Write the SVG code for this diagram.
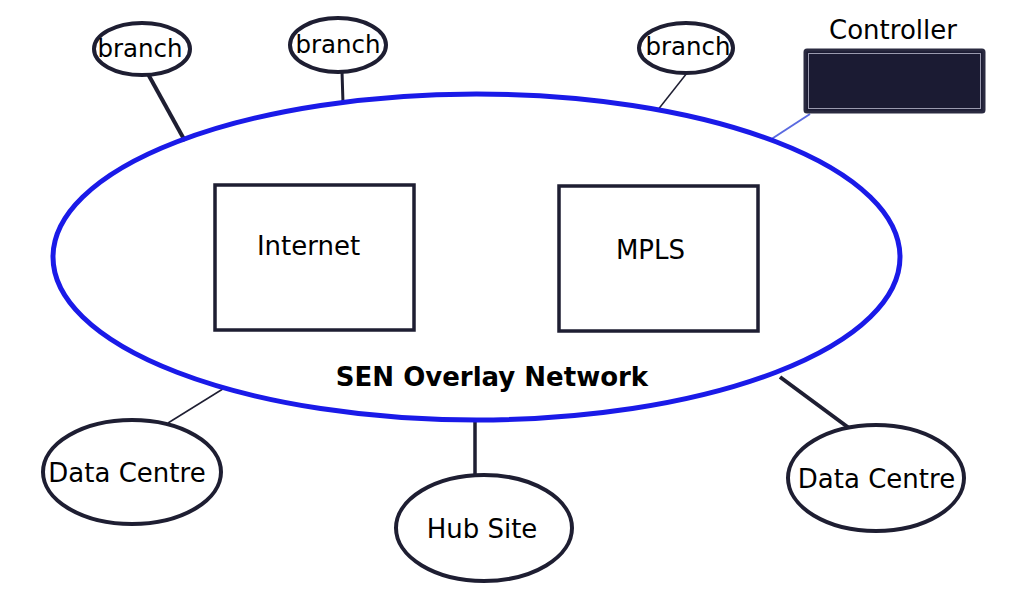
<svg xmlns="http://www.w3.org/2000/svg" width="1024" height="589" viewBox="0 0 1024 589">
<style>
.node{fill:#ffffff;stroke:#1e1e32;stroke-width:4}
.box{fill:#ffffff;stroke:#1e1e32;stroke-width:3.5}
.t{font-family:"DejaVu Sans",Verdana,sans-serif;font-size:26px;fill:#000;text-anchor:middle}
.br{font-size:24.5px}
.conn{stroke:#1e1e32;stroke-linecap:butt;fill:none}
</style>
<rect width="1024" height="589" fill="#ffffff"/>
<g id="connectors">
<line class="conn" x1="148" y1="74" x2="185" y2="141" stroke-width="4"/>
<line class="conn" x1="342" y1="71" x2="343" y2="104" stroke-width="3"/>
<line class="conn" x1="687" y1="73" x2="657" y2="111" stroke-width="1.5"/>
<line x1="810" y1="114" x2="770" y2="140" stroke="#5a6ae0" stroke-width="2"/>
<line class="conn" x1="168" y1="423" x2="226" y2="387" stroke-width="1.5"/>
<line class="conn" x1="475" y1="420" x2="475" y2="477" stroke-width="3.5"/>
<line class="conn" x1="780" y1="377" x2="849" y2="428" stroke-width="4"/>
</g>
<g id="overlay">
<ellipse cx="476.5" cy="257" rx="423.5" ry="163" fill="none" stroke="#1a1ae8" stroke-width="5"/>
<text class="t" x="492" y="386" font-weight="bold" font-size="26.5px">SEN Overlay Network</text>
</g>
<g id="internet">
<rect class="box" x="215" y="185" width="199" height="145"/>
<text class="t" x="308.5" y="255">Internet</text>
</g>
<g id="mpls">
<rect class="box" x="559" y="186" width="199" height="145"/>
<text class="t" x="650.5" y="259">MPLS</text>
</g>
<g id="branch1">
<ellipse class="node" cx="142" cy="49" rx="48" ry="26"/>
<text class="t br" x="140" y="57">branch</text>
</g>
<g id="branch2">
<ellipse class="node" cx="338" cy="45" rx="48" ry="27"/>
<text class="t br" x="338" y="53">branch</text>
</g>
<g id="branch3">
<ellipse class="node" cx="686" cy="48" rx="47" ry="25"/>
<text class="t br" x="688" y="55">branch</text>
</g>
<g id="controller">
<text class="t" x="893" y="39">Controller</text>
<rect x="805" y="50" width="179" height="62" rx="2" fill="#1b1b33" stroke="#2a2a40" stroke-width="3"/>
<rect x="808.5" y="53.5" width="172" height="55" fill="none" stroke="#9a9aae" stroke-width="1"/>
</g>
<g id="datacentre-left">
<ellipse class="node" cx="132" cy="472" rx="89" ry="52"/>
<text class="t" x="127" y="482">Data Centre</text>
</g>
<g id="hub">
<ellipse class="node" cx="484" cy="528" rx="88" ry="53"/>
<text class="t" x="482" y="538">Hub Site</text>
</g>
<g id="datacentre-right">
<ellipse class="node" cx="876" cy="478" rx="88" ry="53"/>
<text class="t" x="876.5" y="488">Data Centre</text>
</g>
</svg>
